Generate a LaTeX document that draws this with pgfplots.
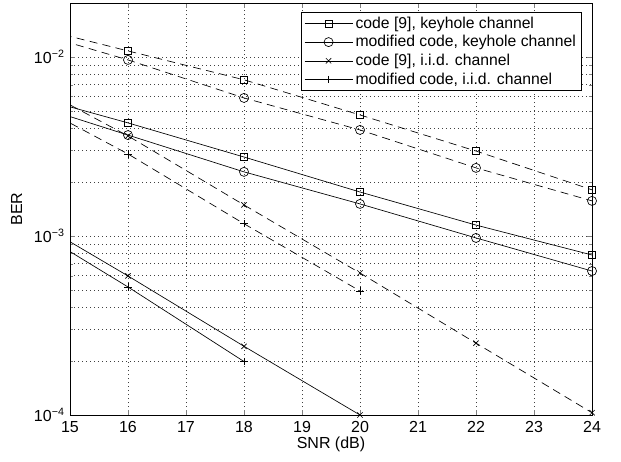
\documentclass[border=0pt]{standalone}
\usepackage{fontspec}
\setmainfont{Liberation Sans}
\usepackage{pgfplots}
\pgfplotsset{compat=1.18}

\begin{document}
\begin{tikzpicture}
\begin{axis}[
    name=ax,
    scale only axis,
    width=391.5pt, height=309pt,
    ymode=log,
    xmin=15, xmax=24, ymin=1e-4, ymax=2e-2,
    xtick={15,16,...,24},
    ytick={1e-4,1e-3,1e-2},
    yticklabels={10\textsuperscript{−4},10\textsuperscript{−3},10\textsuperscript{−2}},
    /pgf/number format/assume math mode=true,
    tick label style={font=\fontsize{12}{14}\selectfont},
    xticklabel style={yshift=-1.5pt},
    yticklabel style={xshift=-0.5pt},
    label style={font=\fontsize{12}{14}\selectfont},
    xlabel={SNR (dB)}, ylabel={BER},
    xlabel style={yshift=4pt}, ylabel style={yshift=2pt},
    tick align=inside, major tick length=3.5pt, minor tick length=2pt,
    grid=both,
    major grid style={black!75, dash pattern=on 0.5pt off 2.5pt, line width=0.4pt},
    minor grid style={black!75, dash pattern=on 0.5pt off 2.5pt, line width=0.4pt},
    axis line style={line width=0.6pt},
    every axis plot/.append style={black, line width=0.5pt},
    legend style={at={(1,1)}, anchor=north east, xshift=-7.5pt, yshift=-6.75pt,
        draw=black, line width=1pt, font=\fontsize{11.8}{13}\selectfont,
        cells={anchor=west}, row sep=0pt, inner xsep=2pt, inner ysep=1pt},
    legend image code/.code={\draw[mark repeat=2,mark phase=2, line width=0.5pt] plot coordinates {(4pt,0pt)(22pt,0pt)(40pt,0pt)};},
]
% solid curves
\addplot[mark=square, mark size=2.6pt, mark options={solid}] coordinates {
    (14,0.00647) (16,0.00428) (18,0.00276) (20,0.00176) (22,0.00115) (24,0.000783)};
\addlegendentry{code [9], keyhole channel}
\addplot[mark=o, mark size=3.4pt, mark options={solid}] coordinates {
    (14,0.00589) (16,0.00366) (18,0.00228) (20,0.00151) (22,0.000975) (24,0.000637)};
\addlegendentry{modified code, keyhole channel}
\addplot[mark=x, mark size=2.8pt, mark options={solid}] coordinates {
    (14,0.00144) (16,0.000598) (18,0.000242) (20,0.0001)};
\addlegendentry{code [9], i.i.d. channel}
\addplot[mark=+, mark size=2.8pt, mark options={solid}] coordinates {
    (14,0.00129) (16,0.000519) (18,0.000199)};
\addlegendentry{modified code, i.i.d. channel}

% dashed curves
\addplot[forget plot, dash pattern=on 6pt off 4pt, mark=square, mark size=2.6pt, mark options={solid}] coordinates {
    (14,0.0157) (16,0.0108) (18,0.00745) (20,0.00474) (22,0.00298) (24,0.00181)};
\addplot[forget plot, dash pattern=on 6pt off 4pt, mark=o, mark size=3.4pt, mark options={solid}] coordinates {
    (14,0.0149) (16,0.00962) (18,0.0059) (20,0.00391) (22,0.0024) (24,0.00157)};
\addplot[forget plot, dash pattern=on 6pt off 4pt, mark=x, mark size=2.8pt, mark options={solid}] coordinates {
    (14,0.00804) (16,0.00362) (18,0.00149) (20,0.000621) (22,0.000252) (24,0.000103)};
\addplot[forget plot, dash pattern=on 6pt off 4pt, mark=+, mark size=2.8pt, mark options={solid}] coordinates {
    (14,0.00637) (16,0.00287) (18,0.00117) (20,0.000493)};
\end{axis}
\path (ax.south west) ++(-52.5pt,-34.5pt) (ax.north east) ++(21.75pt,2.25pt);
\end{tikzpicture}
\end{document}
